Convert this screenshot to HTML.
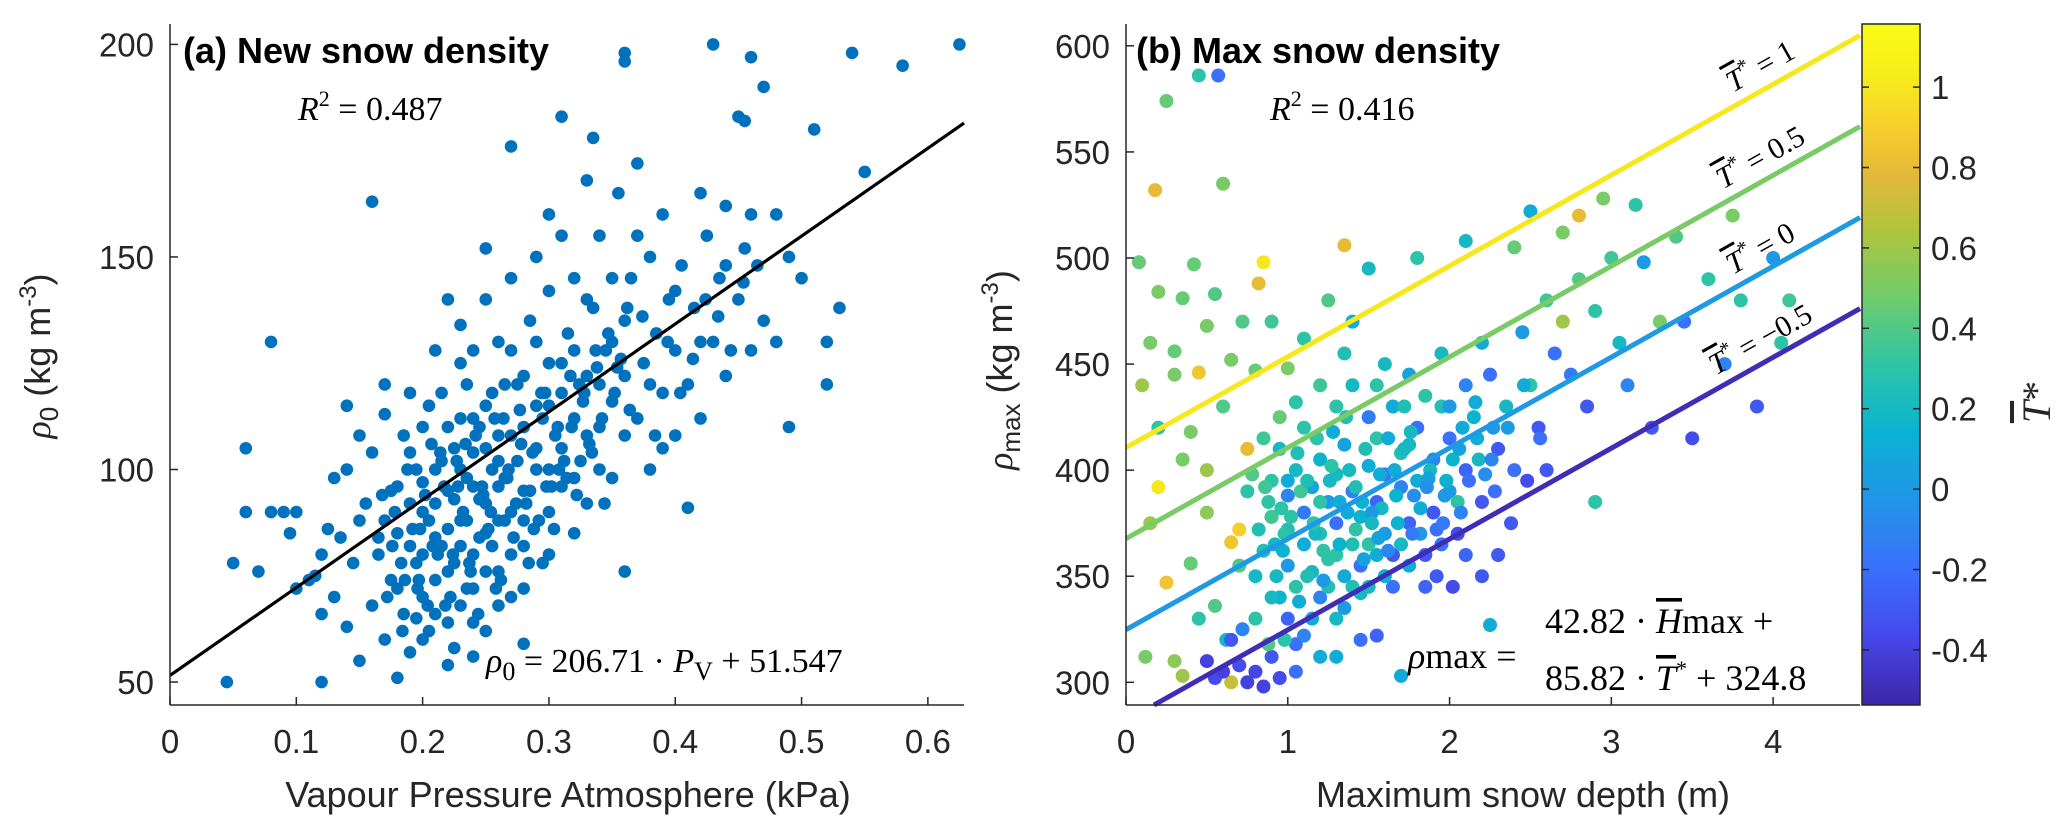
<!DOCTYPE html>
<html><head><meta charset="utf-8"><style>
html,body{margin:0;padding:0;background:#fff;}
svg{display:block;}
text{font-family:"Liberation Sans",sans-serif;}
.tk{font-size:33px;fill:#262626;}
.ser{font-family:"Liberation Serif",serif;}
</style></head><body>
<svg id="fig" width="2067" height="839" viewBox="0 0 2067 839" xmlns="http://www.w3.org/2000/svg">
<defs><linearGradient id="cbg" x1="0" y1="1" x2="0" y2="0"></linearGradient></defs>
<g id="pa"></g>
<g id="pb"></g>
<g id="cb"></g>
</svg>
<script>
// ---- Panel (a) data ----
const aX=[0.045,0.05,0.06,0.06,0.07,0.08,0.08,0.09,0.095,0.1,0.1,0.11,0.12,0.12,0.115,0.12,0.125,0.13,0.13,0.135,0.14,0.14,0.145,0.15,0.15,0.155,0.16,0.16,0.16,0.165,0.17,0.17,0.175,0.18,0.18,0.18,0.185,0.19,0.19,0.195,0.2,0.2,0.2,0.205,0.21,0.21,0.215,0.22,0.22,0.22,0.225,0.225,0.23,0.23,0.23,0.235,0.24,0.24,0.24,0.245,0.25,0.25,0.25,0.25,0.255,0.26,0.26,0.26,0.265,0.27,0.27,0.27,0.275,0.28,0.28,0.28,0.285,0.29,0.29,0.295,0.3,0.3,0.3,0.305,0.31,0.31,0.31,0.315,0.32,0.32,0.325,0.33,0.33,0.335,0.335,0.34,0.34,0.345,0.35,0.35,0.355,0.36,0.36,0.36,0.36,0.365,0.37,0.37,0.375,0.38,0.38,0.385,0.39,0.39,0.395,0.4,0.4,0.405,0.41,0.41,0.415,0.42,0.42,0.425,0.43,0.43,0.435,0.44,0.44,0.45,0.455,0.45,0.455,0.46,0.46,0.465,0.47,0.47,0.48,0.49,0.49,0.5,0.51,0.52,0.52,0.53,0.54,0.55,0.58,0.625,
0.17,0.175,0.18,0.185,0.19,0.19,0.195,0.195,0.2,0.2,0.2,0.205,0.205,0.21,0.21,0.21,0.215,0.215,0.22,0.22,0.22,0.225,0.225,0.23,0.23,0.23,0.235,0.235,0.235,0.24,0.24,0.24,0.245,0.245,0.25,0.25,0.25,0.255,0.255,0.26,0.26,0.265,0.265,0.27,0.27,0.27,0.275,0.28,0.28,0.28,0.285,0.29,0.29,0.295,0.3,0.3,0.31,0.31,0.32,0.32,0.33,0.33,0.34,0.35,0.28,0.26,0.24,0.22,0.3,0.32,0.25,0.27,0.29,0.31,0.3,0.33,0.35,0.37,0.26,0.24,0.23,0.21,0.19,0.17,0.15,0.14,0.38,0.4,0.42,0.44,0.46,0.48,0.39,0.36,0.34,0.36,
0.165,0.172,0.178,0.183,0.188,0.192,0.197,0.202,0.207,0.212,0.217,0.222,0.227,0.232,0.237,0.242,0.247,0.252,0.257,0.262,0.267,0.272,0.277,0.282,0.287,0.292,0.297,0.302,0.307,0.312,0.317,0.322,0.327,0.332,0.337,0.342,0.347,0.352,0.357,0.362,
0.168,0.176,0.184,0.196,0.204,0.214,0.224,0.234,0.244,0.254,0.264,0.274,0.284,0.294,0.304,0.314,0.324,0.334,0.344,0.354,0.364,0.374,0.384,0.394,0.404,0.414,0.424,0.434,0.444,0.454,
0.186,0.198,0.208,0.218,0.228,0.238,0.248,0.258,0.268,0.278,0.288,0.298,0.308,0.318,0.328,0.338];
const aY=[50,78,105,90,76,130,90,90,85,90,72,74,50,66,75,80,86,98,70,84,100,63,78,88,55,92,104,68,163,80,60,113,74,51,96,85,66,104,57,78,90,70,110,62,100,84,118,76,95,140,58,105,88,125,68,98,80,112,72,93,152,105,85,62,118,96,76,130,88,108,176,70,120,95,59,82,135,100,115,78,125,90,142,108,183,96,118,132,85,145,102,122,92,178,138,110,155,128,98,116,165,76,198,196,135,145,172,112,125,150,100,132,118,160,140,108,128,148,91,120,138,165,112,155,200,130,145,122,162,183,182,140,152,197,128,148,190,135,160,110,150,145,180,120,130,138,198,170,195,200,
88,95,72,108,82,92,65,100,80,97,60,88,115,74,92,66,82,102,86,110,64,93,78,100,82,112,72,88,120,96,104,64,84,110,92,76,115,100,82,108,88,98,120,90,80,128,102,110,88,122,95,105,130,112,100,115,105,125,112,128,108,140,120,130,72,68,56,54,80,98,140,145,150,155,160,168,145,155,102,128,134,128,118,120,108,115,120,142,130,148,160,130,105,122,100,108,
84,70,90,78,100,86,74,94,106,80,96,70,102,90,78,108,96,86,112,74,98,84,114,92,104,88,118,96,110,102,122,94,116,106,128,112,132,118,126,138,
94,82,62,72,68,104,80,106,66,90,112,92,78,118,86,98,120,104,92,124,114,136,108,130,118,126,140,136,128,144,
74,86,82,68,96,76,94,72,100,106,86,96,100,110,118,124];
const aSlope=206.71, aIcept=51.547;
const aXTicks=[0,0.1,0.2,0.3,0.4,0.5,0.6];
const aYTicks=[50,100,150,200];

// ---- Panel (b) data ----
const bH=[0.45,0.57,0.25,0.18,0.6,0.08,0.42,0.85,0.82,1.35,0.2,0.35,0.55,0.72,0.9,0.15,0.3,0.5,0.45,0.65,0.3,0.1,0.8,0.2,0.6,0.4,0.75,0.2,0.5,0.35,0.15,0.5,0.25,0.4,0.65,0.7,0.12,0.35,0.65,0.3,0.55,0.45,0.62,
0.5,0.55,0.6,0.7,0.75,0.8,0.85,0.9,0.95,1.05,1.0,0.65,0.72,1.2,1.1,1.3,1.45,1.55,1.7,2.25,
0.8,0.85,0.9,0.9,0.95,0.95,1.0,1.0,1.0,1.05,1.05,1.1,1.1,1.1,1.15,1.15,1.2,1.2,1.2,1.25,1.25,1.3,1.3,1.3,1.35,1.35,1.4,1.4,1.4,1.45,1.45,1.5,1.5,1.5,1.55,1.55,1.6,1.6,1.6,1.65,1.65,1.7,1.7,1.75,1.75,1.8,1.8,1.85,1.85,1.9,1.9,1.95,2.0,2.0,2.05,2.1,2.1,2.15,2.2,2.2,2.25,2.3,2.35,2.4,2.45,2.5,2.55,2.6,2.65,2.7,2.75,2.8,2.85,2.9,3.0,3.05,3.1,3.2,3.25,3.3,3.4,3.45,3.5,3.6,3.7,3.75,3.8,3.9,4.0,4.05,4.1,3.15,2.95,2.8,2.5,2.7,2.4,2.1,1.8,1.5,1.25,1.4,1.1,1.0,0.95,0.85,0.75,0.7,0.8,0.88,0.9,1.15,1.25,1.35,1.45,1.55,1.65,1.75,1.85,1.95,2.05,1.95,1.75,1.55,1.35,1.2,1.05,0.98,1.08,1.18,1.28,1.38,1.48,1.58,1.68,1.78,1.88,1.98,2.08,2.18,2.28,2.38,2.48,2.6,1.2,1.3,1.4,1.5,1.6,1.7,1.0,0.92,1.12,1.22,1.32,1.42,1.52,1.62,1.72,1.82,1.92,2.02,2.1,2.2,1.3,1.05,0.98,2.3,2.0,2.9,
0.82,0.88,0.93,0.97,1.02,1.07,1.12,1.17,1.22,1.27,1.32,1.37,1.42,1.47,1.52,1.57,1.62,1.67,1.72,1.77,1.82,1.87,1.92,1.97,2.02,2.07,2.12,2.17,2.22,2.27,
0.86,0.96,1.06,1.16,1.26,1.36,1.46,1.56,1.66,1.76,1.86,1.96,2.06,2.16,2.26,2.36,2.46,2.56,0.78,0.9];
const bRho=[586,586,574,532,535,498,497,498,488,506,484,481,483,470,470,460,456,468,446,452,445,440,447,420,430,418,410,392,400,405,375,380,347,356,366,372,312,303,300,310,336,330,320,
310,302,305,308,300,305,298,312,302,318,330,320,325,312,322,330,320,322,303,327,
350,362,378,395,340,410,355,372,388,400,345,365,380,420,352,392,370,405,340,385,358,398,375,430,350,412,365,390,440,378,355,402,425,345,385,415,370,398,450,360,430,392,408,375,445,420,395,360,435,405,380,455,415,390,370,440,400,425,385,460,445,410,430,400,465,440,420,480,455,470,445,490,430,475,500,460,440,498,420,470,510,470,415,490,450,520,480,430,500,460,480,525,528,520,522,512,505,508,500,495,480,470,462,448,425,415,390,355,330,318,340,330,345,335,342,360,345,355,345,365,385,430,412,440,455,440,432,370,390,415,418,400,410,382,375,388,400,395,420,405,390,375,395,400,385,360,345,365,350,365,395,365,350,362,385,372,380,415,430,370,350,345,360,350,312,305,320,360,430,385,
372,385,350,362,378,338,395,370,348,402,365,380,392,358,375,398,362,388,410,370,382,396,372,388,405,380,395,415,398,420,
392,382,408,375,395,425,385,368,400,418,392,375,410,432,405,420,440,415,398,378];
const bT=[0.3,-0.2,0.45,0.8,0.5,0.45,0.45,1.0,0.8,0.8,0.5,0.45,0.4,0.4,0.35,0.5,0.45,0.5,0.85,0.5,0.5,0.6,0.45,0.3,0.4,0.5,0.8,1.0,0.6,0.5,0.6,0.55,0.85,0.45,0.85,0.9,0.5,0.6,0.7,0.55,0.4,0.3,0.2,
-0.4,-0.35,-0.4,-0.35,-0.4,-0.38,-0.4,-0.3,-0.35,-0.2,-0.25,-0.3,-0.1,0.1,-0.1,0.2,-0.2,-0.25,0.1,0.1,
0.2,0.25,0.1,0.3,0.15,0.2,0.0,0.25,-0.1,0.2,0.3,0.1,-0.15,0.3,0.2,0.05,0.25,0.15,-0.1,0.0,0.3,0.2,-0.2,0.3,0.1,0.05,0.25,-0.1,0.2,0.15,-0.2,0.1,-0.15,0.2,-0.25,0.3,0.0,-0.2,0.2,-0.3,0.1,-0.1,0.25,-0.25,0.05,-0.2,0.1,-0.3,0.3,-0.1,-0.3,0.2,-0.2,0.0,-0.35,-0.1,-0.25,0.15,-0.3,0.1,-0.2,-0.3,0.2,-0.2,0.0,0.3,-0.3,0.35,-0.2,0.6,-0.15,0.4,-0.3,0.3,0.35,0.2,-0.1,0.0,-0.3,0.5,0.4,-0.2,-0.35,0.3,-0.1,0.5,0.3,-0.3,0.0,0.3,0.35,0.3,0.5,0.8,0.1,0.5,0.45,0.2,0.3,0.2,0.4,0.1,0.3,0.5,0.45,0.35,0.3,0.4,0.3,0.4,0.2,0.1,0.25,0.0,0.2,0.1,-0.2,0.1,-0.25,-0.2,0.3,0.25,0.2,0.3,0.25,0.35,0.3,0.3,0.35,0.3,0.1,0.2,0.25,0.2,0.15,-0.05,0.2,0.15,0.1,0.2,-0.2,-0.3,-0.35,-0.3,0.3,0.3,0.25,0.3,0.15,0.2,0.1,0.2,0.25,0.3,0.1,0.3,0.0,0.1,0.25,0.0,-0.3,-0.35,-0.25,-0.3,0.1,-0.2,0.3,-0.3,0.0,0.3,
0.25,0.3,0.2,0.15,0.3,0.1,0.25,0.2,0.0,0.3,0.15,0.1,0.25,0.05,0.2,0.1,-0.1,0.15,0.2,-0.15,0.1,0.05,-0.2,0.0,0.15,-0.1,-0.2,0.1,-0.05,0.0,
0.35,0.3,0.25,0.3,0.2,0.25,0.15,0.05,0.1,0.2,-0.05,-0.15,0.05,0.1,-0.1,0.0,0.1,-0.2,0.4,0.35];
const bCoefH=42.82, bCoefT=85.82, bConst=324.8;
const bLineT=[1,0.5,0,-0.5];
const bLineLabels=["1","0.5","0","\u22120.5"];
const bXTicks=[0,1,2,3,4];
const bYTicks=[300,350,400,450,500,550,600];
const cbTicks=[-0.4,-0.2,0,0.2,0.4,0.6,0.8,1];
const cbTickLabels=["-0.4","-0.2","0","0.2","0.4","0.6","0.8","1"];

const NS="http://www.w3.org/2000/svg";
function mk(tag,parent,attrs){const e=document.createElementNS(NS,tag);for(const k in attrs)e.setAttribute(k,attrs[k]);parent.appendChild(e);return e;}

const A={x0:170,x1:964,y0:705,y1:24,xmin:0,xmax:0.6286,ymin:44.6,ymax:204.8};
const B={x0:1126,x1:1860,y0:705,y1:24,xmin:0,xmax:4.537,ymin:289.3,ymax:610.3};
function sx(ax,v){return ax.x0+(v-ax.xmin)/(ax.xmax-ax.xmin)*(ax.x1-ax.x0);}
function sy(ax,v){return ax.y0-(v-ax.ymin)/(ax.ymax-ax.ymin)*(ax.y0-ax.y1);}
const CB={x0:1862,x1:1920,y0:705,y1:24,cmin:-0.537,cmax:1.157};
function cy(v){return CB.y0-(v-CB.cmin)/(CB.cmax-CB.cmin)*(CB.y0-CB.y1);}

const stops=[[0,[62,38,168]],[0.1,[70,72,236]],[0.2,[58,112,252]],[0.3,[34,148,232]],[0.4,[10,178,210]],[0.5,[46,196,164]],[0.6,[112,204,108]],[0.7,[178,196,60]],[0.78,[228,184,56]],[0.86,[250,210,42]],[0.92,[246,236,28]],[1,[249,251,20]]];
function parula(t){t=Math.max(0,Math.min(1,t));for(let i=1;i<stops.length;i++){if(t<=stops[i][0]){const a=stops[i-1],b=stops[i];const f=(t-a[0])/(b[0]-a[0]);const c=a[1].map((v,k)=>Math.round(v+(b[1][k]-v)*f));return `rgb(${c[0]},${c[1]},${c[2]})`;}}return 'rgb(249,251,20)';}
function tcol(T){return parula((T-CB.cmin)/(CB.cmax-CB.cmin));}

function axes(g,ax,xt,yt,xfmt,name){
  const xa=mk('line',g,{x1:ax.x0,y1:ax.y0,x2:ax.x1,y2:ax.y0,stroke:'#262626','stroke-width':1.5});
  
  
  const ya=mk('line',g,{x1:ax.x0,y1:ax.y0,x2:ax.x0,y2:ax.y1,stroke:'#262626','stroke-width':1.5});
  
  
  xt.forEach(v=>{const x=sx(ax,v);
    mk('line',g,{x1:x,y1:ax.y0,x2:x,y2:ax.y0-8,stroke:'#262626','stroke-width':1.5});
    const t=mk('text',g,{x:x,y:753,'text-anchor':'middle',class:'tk'});t.textContent=xfmt(v);
    
    });
  yt.forEach(v=>{const y=sy(ax,v);
    mk('line',g,{x1:ax.x0,y1:y,x2:ax.x0+8,y2:y,stroke:'#262626','stroke-width':1.5});
    const t=mk('text',g,{x:ax.x0-16,y:y+12,'text-anchor':'end',class:'tk'});t.textContent=String(v);
    
    });
}

const pa=document.getElementById('pa');
const ga=mk('g',pa,{});
aX.forEach((x,i)=>{const c=mk('circle',ga,{cx:sx(A,x),cy:sy(A,aY[i]),r:6.3,fill:'#0072BD'});
  
  });
const fit=mk('line',pa,{x1:sx(A,0),y1:sy(A,aIcept),x2:sx(A,A.xmax),y2:sy(A,aIcept+aSlope*A.xmax),stroke:'#000','stroke-width':3.2});


axes(pa,A,aXTicks,aYTicks,v=>String(v),'panel-a');
</script>
<script>
(function(){
const pa=document.getElementById('pa');
pa.insertAdjacentHTML('beforeend',`
<text x="183" y="63" font-size="36" font-weight="bold" fill="#000">(a) New snow density</text>
<text x="298" y="120" font-size="34" class="ser"><tspan font-style="italic">R</tspan><tspan font-size="22" dy="-14">2</tspan><tspan dy="14"> = 0.487</tspan></text>
<text x="486" y="672" font-size="34" class="ser"><tspan font-style="italic">ρ</tspan><tspan font-size="26" dy="8">0</tspan><tspan dy="-8"> = 206.71 · </tspan><tspan font-style="italic">P</tspan><tspan font-size="26" dy="8">V</tspan><tspan dy="-8"> + 51.547</tspan></text>
<text x="568" y="807" font-size="36" fill="#262626" text-anchor="middle">Vapour Pressure Atmosphere (kPa)</text>
<text transform="translate(50,356) rotate(-90)" font-size="36" fill="#262626" text-anchor="middle"><tspan class="ser" font-style="italic">ρ</tspan><tspan font-size="26" dy="8">0</tspan><tspan dy="-8"> (kg m</tspan><tspan font-size="24" dy="-14">-3</tspan><tspan dy="14">)</tspan></text>
`);
})();

const pb=document.getElementById('pb');
const gb=mk('g',pb,{});
bH.forEach((h,i)=>{const c=mk('circle',gb,{cx:sx(B,h),cy:sy(B,bRho[i]),r:7,fill:tcol(bT[i])});
  
  });
const ang=Math.atan2(-(sy(B,bCoefH)-sy(B,0)),(sx(B,1)-sx(B,0)))*180/Math.PI;
bLineT.forEach((T,i)=>{
  const c0=bCoefT*T+bConst;
  let h0=0; if(c0<B.ymin) h0=(B.ymin-c0)/bCoefH;
  const l=mk('line',pb,{x1:sx(B,h0),y1:sy(B,c0+bCoefH*h0),x2:sx(B,B.xmax),y2:sy(B,c0+bCoefH*B.xmax),stroke:tcol(T),'stroke-width':5});
  
  
  const hx=3.95, yy=sy(B,c0+bCoefH*hx)-14;
  const t=mk('text',pb,{transform:`translate(${sx(B,hx)},${yy}) rotate(${-ang})`,'font-size':30,'text-anchor':'middle',class:'ser'});
  t.innerHTML=`<tspan font-style="italic" text-decoration="overline">T</tspan><tspan font-size="20" dy="-12">*</tspan><tspan dy="12"> = ${bLineLabels[i]}</tspan>`;
  
  
});
axes(pb,B,bXTicks,bYTicks,v=>String(v),'panel-b');
pb.insertAdjacentHTML('beforeend',`
<text x="1136" y="63" font-size="36" font-weight="bold" fill="#000">(b) Max snow density</text>
<text x="1270" y="120" font-size="34" class="ser"><tspan font-style="italic">R</tspan><tspan font-size="22" dy="-14">2</tspan><tspan dy="14"> = 0.416</tspan></text>
<text x="1408" y="668" font-size="36" class="ser"><tspan font-style="italic">ρ</tspan>max =</text>
<text x="1545" y="633" font-size="36" class="ser">42.82 · <tspan font-style="italic" text-decoration="overline">H</tspan>max +</text>
<text x="1545" y="690" font-size="36" class="ser">85.82 · <tspan font-style="italic" text-decoration="overline">T</tspan><tspan font-size="22" dy="-14">*</tspan><tspan dy="14"> + 324.8</tspan></text>
<text x="1523" y="807" font-size="36" fill="#262626" text-anchor="middle">Maximum snow depth (m)</text>
<text transform="translate(1012,370) rotate(-90)" font-size="36" fill="#262626" text-anchor="middle"><tspan class="ser" font-style="italic">ρ</tspan><tspan font-size="26" dy="8">max</tspan><tspan dy="-8"> (kg m</tspan><tspan font-size="24" dy="-14">-3</tspan><tspan dy="14">)</tspan></text>
`);

const grad=document.getElementById('cbg');
for(let i=0;i<=40;i++){mk('stop',grad,{offset:(i/40),'stop-color':parula(i/40)});}
const cb=document.getElementById('cb');
const rect=mk('rect',cb,{x:CB.x0,y:CB.y1,width:CB.x1-CB.x0,height:CB.y0-CB.y1,fill:'url(#cbg)',stroke:'#262626','stroke-width':1.5});


cbTicks.forEach((v,i)=>{const y=cy(v);
  mk('line',cb,{x1:CB.x1,y1:y,x2:CB.x1-7,y2:y,stroke:'#262626','stroke-width':1.5});
  mk('line',cb,{x1:CB.x0,y1:y,x2:CB.x0+7,y2:y,stroke:'#262626','stroke-width':1.5});
  const t=mk('text',cb,{x:1931,y:y+12,class:'tk'});t.textContent=cbTickLabels[i];
  
  });
cb.insertAdjacentHTML('beforeend',`<text transform="translate(2050,402) rotate(-90)" font-size="40" class="ser" text-anchor="middle" fill="#262626"><tspan font-style="italic" text-decoration="overline">T</tspan>*</text>`);
</script>
</body></html>
